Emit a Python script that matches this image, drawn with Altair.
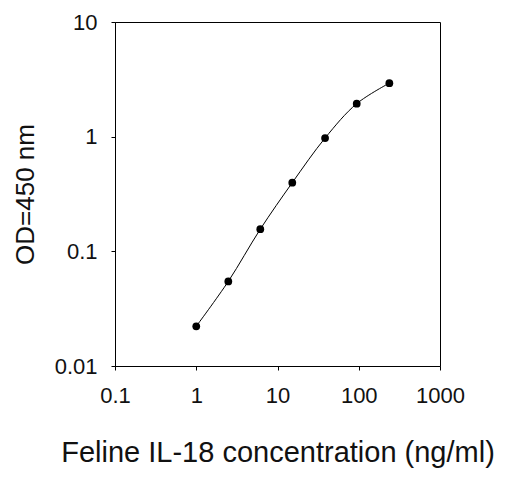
import altair as alt
import pandas as pd

conc = [1.0, 2.48, 6.14, 15.2, 38.5, 94.4, 238.0]
od = [0.0222, 0.0547, 0.156, 0.397, 0.973, 1.94, 2.93]
x_ticks = [0.1, 1, 10, 100, 1000]
y_ticks = [0.01, 0.1, 1, 10]

df = pd.DataFrame({"conc": conc, "od": od})

FONT = "Liberation Sans"

x = alt.X(
    "conc:Q",
    scale=alt.Scale(type="log", domain=[0.1, 1000]),
    axis=alt.Axis(
        title="Feline IL-18 concentration (ng/ml)",
        values=x_ticks,
        format="~g",
        grid=False,
        domainColor="black",
        tickColor="black",
        tickSize=4,
        labelPadding=15,
        labelFontSize=22,
        labelFont=FONT,
        labelColor="#111111",
        labelFlush=False,
        labelOverlap=False,
        titleFont=FONT,
        titleFontSize=29,
        titleFontWeight="normal",
        titleColor="#111111",
        titleX=162.5,
        titleY=95,
        titleAlign="center",
        titleBaseline="alphabetic",
    ),
)
y = alt.Y(
    "od:Q",
    scale=alt.Scale(type="log", domain=[0.01, 10]),
    axis=alt.Axis(
        title="OD=450 nm",
        values=y_ticks,
        format="~g",
        grid=False,
        domainColor="black",
        tickColor="black",
        tickSize=4,
        labelPadding=14,
        labelFontSize=22,
        labelFont=FONT,
        labelColor="#111111",
        labelFlush=False,
        labelOverlap=False,
        titleFont=FONT,
        titleFontSize=26,
        titleFontWeight="normal",
        titleColor="#111111",
        titleAngle=270,
        titleX=-82,
        titleY=172,
        titleAlign="center",
        titleBaseline="alphabetic",
    ),
)

base = alt.Chart(df)
line = base.mark_line(color="black", strokeWidth=1, interpolate="catmull-rom").encode(x=x, y=y)
pts = base.mark_point(filled=True, shape="circle", color="black", size=60, opacity=1).encode(x=x, y=y)

chart = (
    (line + pts)
    .properties(
        width=325,
        height=344,
        autosize=alt.AutoSizeParams(type="none"),
        padding={"left": 107, "top": 14, "right": 66, "bottom": 103},
        background="white",
    )
    .configure_view(stroke="black", strokeWidth=1)
)

chart.save("out.html", embed_options={"renderer": "svg", "actions": False})
